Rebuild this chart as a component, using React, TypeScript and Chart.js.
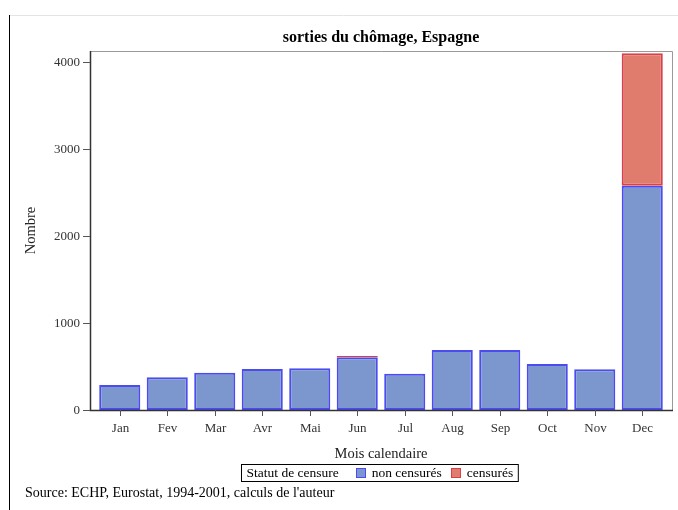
import React, { useEffect, useRef } from "react";
import { Chart, registerables } from "chart.js";

Chart.register(...registerables);

const months = ["Jan", "Fev", "Mar", "Avr", "Mai", "Jun", "Jul", "Aug", "Sep", "Oct", "Nov", "Dec"];
const nonCensures = [287, 376, 429, 471, 479, 607, 417, 691, 691, 529, 468, 2578];
const censures: (number | null)[] = [null, null, null, null, null, 15, null, null, null, null, null, 1522];
const yTicks = [0, 1000, 2000, 3000, 4000];
const seriesNames = ["non censurés", "censurés"];
const chartTitle = "sorties du chômage, Espagne";
const xTitle = "Mois calendaire";
const yTitle = "Nombre";
const legendTitle = "Statut de censure";
const sourceText = "Source: ECHP, Eurostat, 1994-2001, calculs de l'auteur";

const FONT = '"Liberation Serif", "Times New Roman", serif';
const BLUE_FILL = "#7B97CE";
const BLUE_LINE = "#4B4BEF";
const RED_FILL = "#DF7C6D";
const RED_LINE = "#D8414C";

const deco = {
  id: "deco",
  afterDatasetsDraw(chart: any) {
    const { ctx, chartArea: ca, scales } = chart;
    const x = scales.x;
    const y = scales.y;
    const L = ca.left - 6;
    const R = ca.right + 6;
    const T = ca.top;
    const B = ca.bottom;
    const cx = (L + R) / 2;
    ctx.save();

    // page lines
    ctx.strokeStyle = "#e4e4e4";
    ctx.lineWidth = 1;
    ctx.beginPath();
    ctx.moveTo(9, 15.5);
    ctx.lineTo(678, 15.5);
    ctx.stroke();
    ctx.strokeStyle = "#000";
    ctx.beginPath();
    ctx.moveTo(9.5, 15);
    ctx.lineTo(9.5, 510);
    ctx.stroke();

    // frame
    ctx.strokeStyle = "#9a9a9a";
    ctx.beginPath();
    ctx.moveTo(L, T + 0.5);
    ctx.lineTo(R + 0.5, T + 0.5);
    ctx.lineTo(R + 0.5, B);
    ctx.stroke();
    ctx.strokeStyle = "#333";
    ctx.lineWidth = 1.5;
    ctx.beginPath();
    ctx.moveTo(L + 0.5, T);
    ctx.lineTo(L + 0.5, B + 0.5);
    ctx.lineTo(R + 1, B + 0.5);
    ctx.stroke();

    // y ticks
    ctx.lineWidth = 1;
    ctx.strokeStyle = "#555";
    ctx.fillStyle = "#333";
    ctx.font = `13px ${FONT}`;
    ctx.textAlign = "right";
    ctx.textBaseline = "middle";
    yTicks.forEach((v) => {
      const py = Math.round(y.getPixelForValue(v)) + 0.5;
      ctx.beginPath();
      ctx.moveTo(L - 7, py);
      ctx.lineTo(L, py);
      ctx.stroke();
      ctx.fillText(String(v), L - 10, py);
    });

    // x ticks
    ctx.textAlign = "center";
    months.forEach((m, i) => {
      const px = Math.round(x.getPixelForValue(i)) + 0.5;
      ctx.beginPath();
      ctx.moveTo(px, B);
      ctx.lineTo(px, B + 6);
      ctx.stroke();
      ctx.fillText(m, px, B + 19);
    });

    // axis titles
    ctx.fillStyle = "#222";
    ctx.font = `14.5px ${FONT}`;
    ctx.fillText(xTitle, cx, 454);
    ctx.save();
    ctx.translate(31, (T + B) / 2);
    ctx.rotate(-Math.PI / 2);
    ctx.fillText(yTitle, 0, 0);
    ctx.restore();

    // title
    ctx.fillStyle = "#000";
    ctx.font = `bold 16px ${FONT}`;
    ctx.fillText(chartTitle, cx, 38);

    // legend
    ctx.font = `13.5px ${FONT}`;
    const wT = ctx.measureText(legendTitle).width;
    const w1 = ctx.measureText(seriesNames[0]).width;
    const w2 = ctx.measureText(seriesNames[1]).width;
    const sq = 10;
    const total = 5 + wT + 17 + sq + 6 + w1 + 9 + sq + 6 + w2 + 5;
    const bx = Math.round(cx - total / 2 - 2) + 0.5;
    const by = 464.5;
    const bh = 17;
    ctx.strokeStyle = "#000";
    ctx.strokeRect(bx, by, total, bh);
    const my = by + bh / 2;
    ctx.textAlign = "left";
    ctx.fillStyle = "#000";
    let px = bx + 5;
    ctx.fillText(legendTitle, px, my + 0.5);
    px += wT + 17;
    const drawSq = (fill: string, line: string) => {
      ctx.fillStyle = fill;
      ctx.fillRect(Math.round(px), Math.round(my - sq / 2), sq, sq);
      ctx.strokeStyle = line;
      ctx.strokeRect(Math.round(px) + 0.5, Math.round(my - sq / 2) + 0.5, sq - 1, sq - 1);
    };
    drawSq(BLUE_FILL, BLUE_LINE);
    px += sq + 6;
    ctx.fillStyle = "#000";
    ctx.fillText(seriesNames[0], px, my + 0.5);
    px += w1 + 9;
    drawSq(RED_FILL, RED_LINE);
    px += sq + 6;
    ctx.fillStyle = "#000";
    ctx.fillText(seriesNames[1], px, my + 0.5);

    // source
    ctx.font = `14px ${FONT}`;
    ctx.fillText(sourceText, 25, 493);

    ctx.restore();
  },
};

export default function App() {
  const ref = useRef<HTMLCanvasElement>(null);
  useEffect(() => {
    if (!ref.current) return;
    const chart = new Chart(ref.current, {
      type: "bar",
      data: {
        labels: months,
        datasets: [
          {
            label: seriesNames[0],
            data: nonCensures,
            backgroundColor: BLUE_FILL,
            borderColor: BLUE_LINE,
            borderWidth: 2,
            borderSkipped: false,
            categoryPercentage: 0.865,
            barPercentage: 1,
          },
          {
            label: seriesNames[1],
            data: censures,
            backgroundColor: RED_FILL,
            borderColor: RED_LINE,
            borderWidth: 2,
            borderSkipped: false,
            categoryPercentage: 0.865,
            barPercentage: 1,
          },
        ],
      },
      options: {
        responsive: false,
        animation: false,
        layout: { padding: { top: 51, right: 12, left: 0, bottom: 0 } },
        plugins: {
          legend: { display: false },
          title: { display: false },
          tooltip: { enabled: false },
        },
        scales: {
          x: {
            stacked: true,
            grid: { display: false },
            border: { display: false },
            ticks: { display: false },
            afterFit: (s: any) => {
              s.height = 100;
            },
          },
          y: {
            stacked: true,
            min: 0,
            max: 4126,
            grid: { display: false },
            border: { display: false },
            ticks: { display: false },
            afterFit: (s: any) => {
              s.width = 96;
            },
          },
        },
      },
      plugins: [deco],
    });
    return () => chart.destroy();
  }, []);
  return (
    <div style={{ position: "fixed", left: 0, top: 0, width: 678, height: 510, background: "#fff" }}>
      <canvas ref={ref} width={678} height={510} style={{ width: 678, height: 510, display: "block" }} />
    </div>
  );
}
